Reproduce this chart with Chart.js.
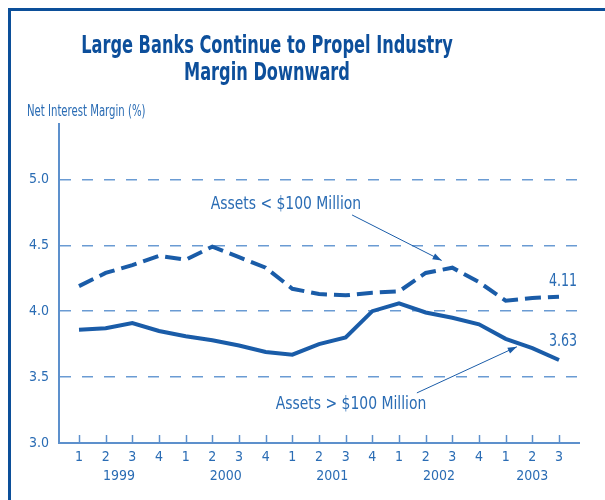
<!DOCTYPE html>
<html><head><meta charset="utf-8">
<script src="https://cdn.jsdelivr.net/npm/chart.js@4.4.1/dist/chart.umd.min.js"></script>
<style>
html,body{margin:0;padding:0;background:#fff;}
#wrap{position:relative;width:605px;height:500px;overflow:hidden;background:#fff;}
#frame{position:absolute;left:8px;top:8px;right:-10px;bottom:-10px;border-left:3px solid #0c4f99;border-top:3px solid #0c4f99;}
canvas{position:absolute;left:0;top:0;}
</style></head><body>
<div id="wrap"><div id="frame"></div><canvas id="c" width="605" height="500"></canvas></div>
<script>
// ---- data ----
const quarters = ['1','2','3','4','1','2','3','4','1','2','3','4','1','2','3','4','1','2','3'];
const quarterYears = ['1999','1999','1999','1999','2000','2000','2000','2000','2001','2001','2001','2001','2002','2002','2002','2002','2003','2003','2003'];
const smallBanks = [4.19,4.29,4.35,4.42,4.39,4.49,4.41,4.33,4.17,4.13,4.12,4.14,4.15,4.29,4.33,4.22,4.08,4.10,4.11];
const largeBanks = [3.86,3.87,3.91,3.85,3.81,3.78,3.74,3.69,3.67,3.75,3.80,4.00,4.06,3.99,3.95,3.90,3.79,3.72,3.63];
const yTicks = [3.0,3.5,4.0,4.5,5.0];
const titleLines = ['Large Banks Continue to Propel Industry','Margin Downward'];
const yAxisLabel = 'Net Interest Margin (%)';
const smallLabel = 'Assets < $100 Million';
const largeLabel = 'Assets > $100 Million';

// ---- styles ----
const FONT = '"DejaVu Sans Condensed","Liberation Sans Narrow",Arial,sans-serif';
const TEXT = '#2a6cb4';
const TITLE = '#0d4f9b';
const GRID = '#6a9bd3';
const AXIS = '#5d90cc';
const LINE = '#1a5ca8';

const years = [...new Set(quarterYears)];
const yearCenters = years.map(y => {
  const idx = quarterYears.map((q,i)=>q===y?i:-1).filter(i=>i>=0);
  return idx.reduce((a,b)=>a+b,0)/idx.length;
});

// annotations in data coordinates
const annotations = [
  {text: smallLabel, x: 7.76, y: 4.81, arrowFrom: [10.24, 4.73], arrowTo: [13.6, 4.385]},
  {text: largeLabel, x: 10.2, y: 3.29, arrowFrom: [12.67, 3.38], arrowTo: [16.42, 3.73]}
];

function squeezedText(ctx, text, x, y, sx, align) {
  ctx.save();
  ctx.translate(x, y);
  ctx.scale(sx, 1);
  ctx.textAlign = align;
  ctx.fillText(text, 0, 0);
  ctx.restore();
}

const decor = {
  id: 'decor',
  afterDraw(chart) {
    const ctx = chart.ctx, xs = chart.scales.x, ys = chart.scales.y;
    const ca = chart.chartArea;
    ctx.save();
    // title
    ctx.fillStyle = TITLE;
    ctx.font = 'bold 24px ' + FONT;
    ctx.textBaseline = 'alphabetic';
    squeezedText(ctx, titleLines[0], 267, 53, 0.75, 'center');
    squeezedText(ctx, titleLines[1], 267, 80, 0.75, 'center');
    // y label
    ctx.fillStyle = TEXT;
    ctx.font = '15px ' + FONT;
    ctx.textBaseline = 'middle';
    squeezedText(ctx, yAxisLabel, 27, 112, 0.75, 'left');
    // inner tick marks on x axis
    ctx.strokeStyle = AXIS;
    ctx.lineWidth = 1.5;
    quarters.forEach((q,i) => {
      const px = Math.round(xs.getPixelForValue(i)) + 0.5;
      ctx.beginPath();
      ctx.moveTo(px, ca.bottom);
      ctx.lineTo(px, ca.bottom - 8);
      ctx.stroke();
    });
    // annotations
    ctx.font = '18px ' + FONT;
    ctx.textBaseline = 'middle';
    annotations.forEach(a => {
      ctx.fillStyle = TEXT;
      squeezedText(ctx, a.text, xs.getPixelForValue(a.x), ys.getPixelForValue(a.y), 0.86, 'center');
      const x1 = xs.getPixelForValue(a.arrowFrom[0]), y1 = ys.getPixelForValue(a.arrowFrom[1]);
      const x2 = xs.getPixelForValue(a.arrowTo[0]), y2 = ys.getPixelForValue(a.arrowTo[1]);
      ctx.strokeStyle = LINE;
      ctx.lineWidth = 1;
      ctx.beginPath(); ctx.moveTo(x1,y1); ctx.lineTo(x2,y2); ctx.stroke();
      const ang = Math.atan2(y2-y1, x2-x1), L = 9, W = 3.2;
      ctx.fillStyle = LINE;
      ctx.beginPath();
      ctx.moveTo(x2,y2);
      ctx.lineTo(x2 - L*Math.cos(ang) + W*Math.sin(ang), y2 - L*Math.sin(ang) - W*Math.cos(ang));
      ctx.lineTo(x2 - L*Math.cos(ang) - W*Math.sin(ang), y2 - L*Math.sin(ang) + W*Math.cos(ang));
      ctx.closePath(); ctx.fill();
    });
    // end value labels
    ctx.fillStyle = TEXT;
    ctx.font = '18px ' + FONT;
    const last = smallBanks.length - 1;
    squeezedText(ctx, smallBanks[last].toFixed(2), xs.getPixelForValue(last) + 4, ys.getPixelForValue(smallBanks[last]) - 15, 0.78, 'center');
    squeezedText(ctx, largeBanks[last].toFixed(2), xs.getPixelForValue(last) + 4, ys.getPixelForValue(largeBanks[last]) - 19, 0.78, 'center');
    ctx.restore();
  }
};

new Chart(document.getElementById('c'), {
  type: 'line',
  data: {
    datasets: [
      {label: smallLabel, data: smallBanks.map((v,i)=>({x:i,y:v})), borderColor: LINE, borderWidth: 4, borderDash: [16,7], pointRadius: 0, tension: 0, fill: false, borderCapStyle: 'butt'},
      {label: largeLabel, data: largeBanks.map((v,i)=>({x:i,y:v})), borderColor: LINE, borderWidth: 4, pointRadius: 0, tension: 0, fill: false}
    ]
  },
  options: {
    responsive: false,
    animation: false,
    devicePixelRatio: 1,
    layout: {padding: {top: 124, right: 26, left: 0, bottom: 0}},
    plugins: {legend: {display: false}, tooltip: {enabled: false}, title: {display: false}},
    scales: {
      x: {
        type: 'linear', position: 'bottom', min: -0.75, max: 18.75,
        afterBuildTicks: s => { s.ticks = quarters.map((q,i)=>({value:i})); },
        afterFit: s => { s.height = 24; },
        ticks: {callback: v => quarters[v], color: TEXT, font: {family: FONT, size: 14}, padding: 6, maxRotation: 0, autoSkip: false},
        grid: {display: false, drawTicks: false},
        border: {display: true, color: AXIS, width: 2}
      },
      years: {
        type: 'linear', axis: 'x', position: 'bottom', min: -0.75, max: 18.75,
        afterBuildTicks: s => { s.ticks = yearCenters.map(v=>({value:v})); },
        afterFit: s => { s.height = 33; },
        ticks: {callback: (v, i) => years[i], color: TEXT, font: {family: FONT, size: 14}, padding: 1, maxRotation: 0, autoSkip: false},
        grid: {display: false, drawTicks: false},
        border: {display: false}
      },
      y: {
        min: 3.0, max: 5.42,
        afterBuildTicks: s => { s.ticks = yTicks.map(v=>({value:v})); },
        afterFit: s => { s.width = 59; },
        ticks: {callback: v => v.toFixed(1), color: TEXT, font: {family: FONT, size: 14}, padding: 10},
        grid: {color: c => (c.tick && c.tick.value === 3) ? 'rgba(0,0,0,0)' : GRID, lineWidth: 1.5, drawTicks: false},
        border: {display: true, color: AXIS, width: 2, dash: [11,11]}
      }
    }
  },
  plugins: [decor]
});
</script>
</body></html>
